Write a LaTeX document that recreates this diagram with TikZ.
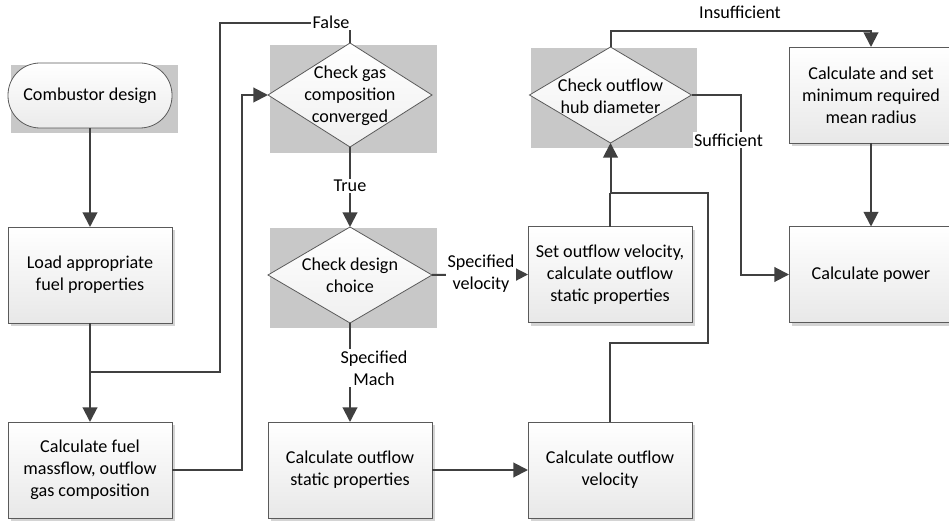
\documentclass[tikz,border=0pt]{standalone}
\usepackage{fontspec}
\setmainfont{Carlito}
\usetikzlibrary{arrows.meta,shapes.geometric,shadows}

\definecolor{linecol}{HTML}{404040}
\definecolor{edgecol}{HTML}{5A5A5A}
\definecolor{backcol}{HTML}{C8C8C8}
\definecolor{shadecol}{HTML}{D4D4D4}

\begin{document}
\begin{tikzpicture}[x=0.75pt,y=-0.75pt,
  every node/.style={font=\fontsize{13.6}{16.5}\selectfont, align=center, text=black},
  procbox/.style={rectangle, draw=edgecol, line width=0.6pt,
    top color=white, bottom color=black!9,
    minimum width=123pt, minimum height=72pt, inner sep=0pt, outer sep=0pt,
    drop shadow={shadow xshift=2.6pt, shadow yshift=-2.6pt, fill=shadecol, opacity=1}},
  termbox/.style={rectangle, rounded corners=24pt, draw=edgecol, line width=0.6pt,
    top color=white, bottom color=black!8,
    minimum width=123pt, minimum height=48.75pt, inner sep=0pt, outer sep=0pt},
  decision/.style={diamond, draw=edgecol, line width=0.6pt,
    top color=white, bottom color=black!6,
    inner sep=0pt, outer sep=0pt, minimum width=123pt, minimum height=72pt},
  conn/.style={draw=linecol, line width=1.5pt},
  arr/.style={conn, -{Triangle[length=11pt,width=11pt]}},
  lbl/.style={fill=white, inner sep=1pt}
]
\useasboundingbox (0,0) rectangle (949,524);

% grey backdrops behind the terminal and the decisions
\fill[backcol] (11,65) rectangle (178,133);
\fill[backcol] (270,45) rectangle (437,153);
\fill[backcol] (270,228) rectangle (437,328);
\fill[backcol] (531,48) rectangle (697,148);

% left column
\node[termbox] (start) at (90,95.5) {Combustor design};
\node[procbox] (load) at (90,275) {Load appropriate\\fuel properties};
\node[procbox] (fuel) at (90,470) {Calculate fuel\\massflow, outflow\\gas composition};

% middle column
\node[decision, minimum height=78pt] (d1) at (350,95) {};
\node (d1t) at (350,96) {Check gas\\composition\\converged};
\node[decision] (d2) at (350,275) {};
\node (d2t) at (350,275) {Check design\\choice};
\node[procbox] (stat) at (350,470) {Calculate outflow\\static properties};

% third column
\node[decision, minimum width=121.5pt] (d3) at (610.5,95) {};
\node (d3t) at (610.5,96) {Check outflow\\hub diameter};
\node[procbox] (setv) at (610,274.5) {Set outflow velocity,\\calculate outflow\\static properties};
\node[procbox] (vel) at (610,470) {Calculate outflow\\velocity};

% right column
\node[procbox] (radius) at (871,95) {Calculate and set\\minimum required\\mean radius};
\node[procbox] (power) at (871,274.5) {Calculate power};

% routing points
\coordinate (fc) at (220,23);
\coordinate (fj) at (220,372);
\coordinate (rc) at (242,95);
\coordinate (r1) at (708,343);
\coordinate (r2) at (708,193);
\coordinate (ic) at (740,31);
\coordinate (sc) at (741,200);

% connectors
\draw[arr] (start) -- (load);
\draw[arr] (load) -- (fuel);
\draw[conn] (d1.north) |- (fc) -- (fj) -- (load.south |- fj);
\draw[arr] (fuel.east) -| (rc) -- (d1.west);
\draw[arr] (d1.south) -- (d2.north);
\draw[arr] (d2.east) -- (setv.west);
\draw[arr] (d2.south) -- (stat.north);
\draw[arr] (stat.east) -- (vel.west);
\draw[arr] (vel.north) |- (r1) -- (r2) -| (d3.south);
\draw[conn] (setv.north) -- (setv.north |- r2);
\draw[arr] (d3.north) |- (ic) -| (radius.north);
\draw[arr] (d3.east) -| (sc) |- (power.west);
\draw[arr] (radius.south) -- (power.north);

% branch labels
\node[lbl] (lfalse) at (331,22) {False};
\node[lbl] (ltrue) at (350,186) {True};
\node[lbl] (lvel) at (481,274) {Specified\\velocity};
\node[lbl] (lmach) at (374,368) {Specified\\Mach};
\node (lins) at (740,12) {Insufficient};
\node[lbl] (lsuf) at (728.5,140) {Sufficient};
\end{tikzpicture}
\end{document}
